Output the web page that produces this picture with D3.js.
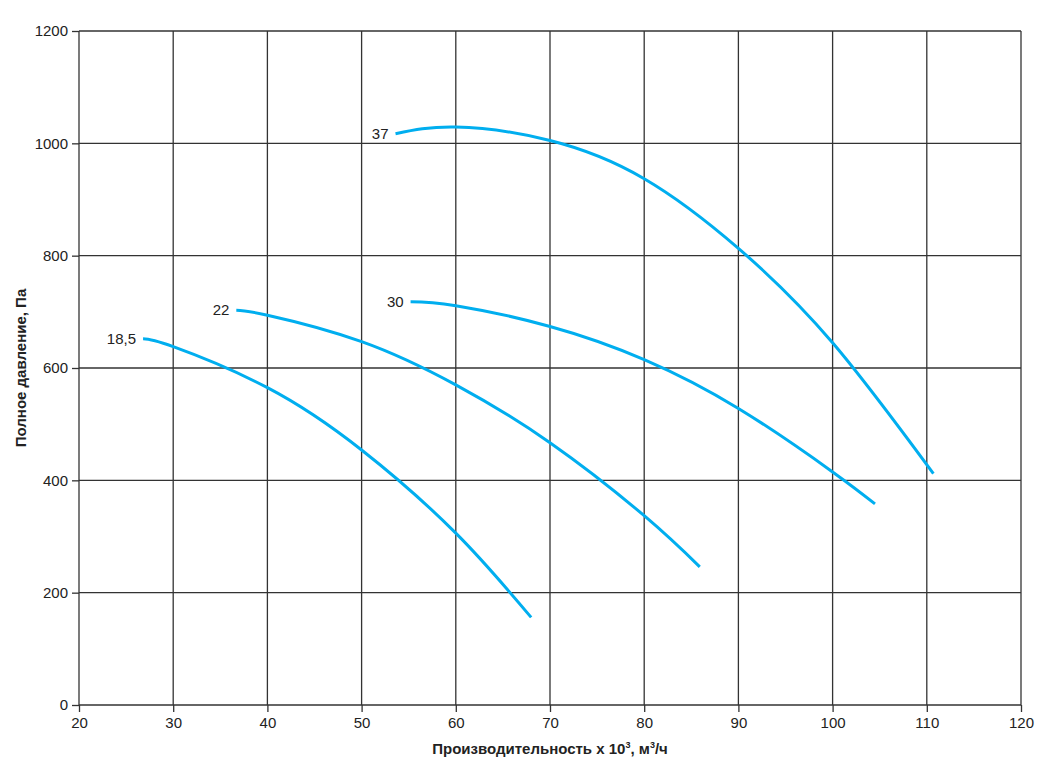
<!DOCTYPE html>
<html>
<head>
  <meta charset="utf-8">
  <title>Характеристики вентилятора</title>
  <style type="text/css">
    html, body { margin: 0; padding: 0; background: #fff; }
    svg { display: block; font-family: "Liberation Sans", Arial, sans-serif; }
  </style>
  <script src="https://d3js.org/d3.v7.min.js"></script>
</head>
<body>
<div id="chart"></div>
<script>
  // ось X: производительность, тыс. м3/ч ; ось Y: полное давление, Па
  var xTicks = [20, 30, 40, 50, 60, 70, 80, 90, 100, 110, 120];
  var yTicks = [0, 200, 400, 600, 800, 1000, 1200];

  // кривые по мощности двигателя, кВт
  var labels = ["18,5", "22", "30", "37"];
  var flow185 = [26.8, 30, 40, 50, 60, 68.0];
  var press185 = [652, 638, 565, 454, 306, 156];
  var flow22 = [36.7, 40, 50, 60, 70, 80, 85.9];
  var press22 = [703, 694, 647, 570, 467, 337, 246];
  var flow30 = [55.2, 60, 70, 80, 90, 100, 104.5];
  var press30 = [718, 711, 674, 615, 528, 415, 358];
  var flow37 = [53.6, 60, 70, 80, 90, 100, 110.7];
  var press37 = [1017, 1029, 1005, 937, 813, 645, 412];

  var series = [
    { name: labels[0], x: flow185, y: press185 },
    { name: labels[1], x: flow22, y: press22 },
    { name: labels[2], x: flow30, y: press30 },
    { name: labels[3], x: flow37, y: press37 }
  ];

  var width = 1050, height = 775;
  var margin = { top: 31, right: 29, bottom: 70, left: 79 };

  var svg = d3.select("#chart").append("svg")
    .attr("width", width)
    .attr("height", height);

  var x = d3.scaleLinear().domain([20, 120]).range([margin.left, width - margin.right]);
  var y = d3.scaleLinear().domain([0, 1200]).range([height - margin.bottom, margin.top]);

  var gridColor = "#333";

  // сетка
  svg.append("g").selectAll("line")
    .data(xTicks)
    .join("line")
    .attr("x1", d => x(d)).attr("x2", d => x(d))
    .attr("y1", y(0)).attr("y2", y(1200))
    .attr("stroke", gridColor)
    .attr("stroke-width", 1.3);

  svg.append("g").selectAll("line")
    .data(yTicks)
    .join("line")
    .attr("x1", x(20)).attr("x2", x(120))
    .attr("y1", d => y(d)).attr("y2", d => y(d))
    .attr("stroke", gridColor)
    .attr("stroke-width", 1.3);

  // оси
  var xAxis = svg.append("g")
    .attr("transform", "translate(0," + y(0) + ")")
    .call(d3.axisBottom(x).tickValues(xTicks).tickFormat(d3.format("d")).tickSize(7).tickPadding(5));
  var yAxis = svg.append("g")
    .attr("transform", "translate(" + x(20) + ",0)")
    .call(d3.axisLeft(y).tickValues(yTicks).tickFormat(d3.format("d")).tickSize(7).tickPadding(4));

  [xAxis, yAxis].forEach(function (g) {
    g.select(".domain").remove();
    g.selectAll(".tick line").attr("stroke", gridColor).attr("stroke-width", 1.3);
    g.selectAll(".tick text")
      .attr("fill", "#222")
      .attr("font-size", 15)
      .attr("font-family", "'Liberation Sans', Arial, sans-serif");
  });

  // кривые
  var line = d3.line()
    .x(d => x(d[0]))
    .y(d => y(d[1]))
    .curve(d3.curveNatural);

  svg.append("g").selectAll("path")
    .data(series)
    .join("path")
    .attr("d", s => line(s.x.map((v, i) => [v, s.y[i]])))
    .attr("fill", "none")
    .attr("stroke", "#00aeef")
    .attr("stroke-width", 3);

  svg.append("g").selectAll("text")
    .data(series)
    .join("text")
    .attr("x", s => x(s.x[0]) - 7)
    .attr("y", s => y(s.y[0]))
    .attr("dy", "0.35em")
    .attr("text-anchor", "end")
    .attr("font-size", 15)
    .attr("fill", "#222")
    .text(s => s.name);

  // подписи осей
  var xTitle = svg.append("text")
    .attr("x", (x(20) + x(120)) / 2)
    .attr("y", 754)
    .attr("text-anchor", "middle")
    .attr("font-size", 15)
    .attr("font-weight", "bold")
    .attr("fill", "#222");
  xTitle.append("tspan").text("Производительность х 10");
  xTitle.append("tspan").attr("font-size", 9).attr("dy", -6).text("3");
  xTitle.append("tspan").attr("dy", 6).text(", м");
  xTitle.append("tspan").attr("font-size", 9).attr("dy", -6).text("3");
  xTitle.append("tspan").attr("dy", 6).text("/ч");

  svg.append("text")
    .attr("transform", "translate(26," + ((y(0) + y(1200)) / 2) + ") rotate(-90)")
    .attr("text-anchor", "middle")
    .attr("font-size", 15)
    .attr("font-weight", "bold")
    .attr("fill", "#222")
    .text("Полное давление, Па");
</script>
</body>
</html>
